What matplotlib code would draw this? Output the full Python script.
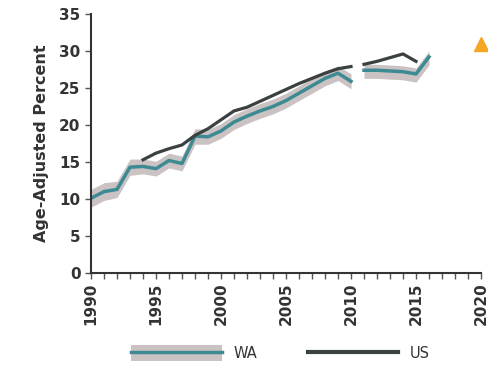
import numpy as np
import matplotlib
matplotlib.use('Agg')
import matplotlib.pyplot as plt
from matplotlib.patches import Patch
from matplotlib.lines import Line2D

# WA (before and after 2011 method change)
wa_years_a = list(range(1990, 2011))
wa_a = [10.1, 11.0, 11.3, 14.3, 14.4, 14.1, 15.2, 14.8, 18.5, 18.4, 19.2,
        20.4, 21.2, 21.9, 22.5, 23.3, 24.3, 25.3, 26.3, 27.0, 25.9]
wa_lo_a = [8.9, 9.8, 10.2, 13.2, 13.4, 13.1, 14.2, 13.8, 17.4, 17.4, 18.2,
           19.4, 20.2, 20.9, 21.5, 22.3, 23.3, 24.3, 25.3, 26.0, 24.9]
wa_hi_a = [11.3, 12.2, 12.4, 15.4, 15.4, 15.1, 16.2, 15.8, 19.5, 19.4, 20.2,
           21.4, 22.2, 22.9, 23.5, 24.3, 25.3, 26.3, 27.3, 28.0, 26.9]
wa_years_b = list(range(2011, 2017))
wa_b = [27.4, 27.4, 27.3, 27.2, 26.9, 29.2]
wa_lo_b = [26.3, 26.3, 26.2, 26.1, 25.8, 28.1]
wa_hi_b = [28.2, 28.2, 28.1, 28.0, 27.7, 30.0]

# US
us_years_a = list(range(1994, 2011))
us_a = [15.3, 16.2, 16.8, 17.3, 18.6, 19.5, 20.7, 21.9, 22.4, 23.2,
        24.0, 24.8, 25.6, 26.3, 27.0, 27.6, 27.9]
us_years_b = list(range(2011, 2016))
us_b = [28.2, 28.6, 29.1, 29.6, 28.6]

# HP2020 target
target_year = 2020
target_val = 31.0

teal = '#3e8a92'
band = '#cbc3c3'
usc = '#3b4040'
txt = '#333333'

fig = plt.figure(figsize=(4.88, 3.75), dpi=100)
ax = fig.add_axes([91/488, 1 - 273/375, 390/488, 259/375])

# confidence band, then lines
for yrs, lo, hi in [(wa_years_a, wa_lo_a, wa_hi_a), (wa_years_b, wa_lo_b, wa_hi_b)]:
    ax.fill_between(yrs, lo, hi, color=band, lw=0, zorder=1)
for yrs, v in [(wa_years_a, wa_a), (wa_years_b, wa_b)]:
    ax.plot(yrs, v, color=teal, lw=2.5, zorder=2)
for yrs, v in [(us_years_a, us_a), (us_years_b, us_b)]:
    ax.plot(yrs, v, color=usc, lw=2.3, zorder=3)

ax.plot([target_year], [target_val], marker='^', color='#f5a623', ms=10,
        ls='none', clip_on=False, zorder=4)

ax.set_xlim(1990, 2020)
ax.set_ylim(0, 35)
ax.set_yticks(range(0, 36, 5))
ax.set_xticks(range(1990, 2021, 5))
ax.set_xticks(range(1990, 2021), minor=True)
for s in ['top', 'right']:
    ax.spines[s].set_visible(False)
for s in ['left', 'bottom']:
    ax.spines[s].set_color('#333333')
    ax.spines[s].set_linewidth(1.5)
ax.tick_params(axis='both', which='both', length=4, color='#555555', width=1,
               labelcolor=txt)
ax.tick_params(axis='x', which='major', labelrotation=90, pad=3)
for lab in ax.get_xticklabels() + ax.get_yticklabels():
    lab.set_fontweight('bold')
    lab.set_fontsize(11)

ax.set_ylabel('Age-Adjusted Percent', fontsize=11.5, fontweight='bold',
              color=txt, labelpad=7)

handles = [(Patch(color=band, lw=0), Line2D([], [], color=teal, lw=2.5)),
           Line2D([], [], color=usc, lw=3)]
fig.legend(handles, ['WA', 'US'], loc='center', bbox_to_anchor=(0.575, 0.058),
           ncol=2, frameon=False, handlelength=6.2, handleheight=1.3,
           columnspacing=3.5, fontsize=10.5, labelcolor=txt)

fig.savefig('out.png', dpi=100)
